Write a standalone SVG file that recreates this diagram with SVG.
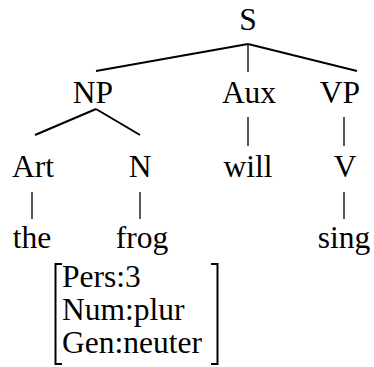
<svg xmlns="http://www.w3.org/2000/svg" width="374" height="367" viewBox="0 0 374 367">
<style>
line,path{stroke:#000;stroke-width:2;fill:none}
.v{stroke-width:1.3}
text{font-family:'Times New Roman',Times,'Liberation Serif',serif;font-size:31.5px;fill:#000;text-anchor:middle}
text.fs{text-anchor:start}
</style>
<rect width="374" height="367" fill="#fff"/>
<g id="connectors">
<line x1="248" y1="44" x2="96" y2="71"/>
<line x1="248" y1="44" x2="357" y2="71"/>
<line class="v" x1="248" y1="44" x2="248" y2="72"/>
<line x1="96" y1="109" x2="35" y2="135"/>
<line x1="96" y1="109" x2="140" y2="135"/>
<line class="v" x1="248" y1="117" x2="248" y2="146"/>
<line class="v" x1="344" y1="117" x2="344" y2="146"/>
<line class="v" x1="32" y1="192" x2="32" y2="219"/>
<line class="v" x1="140" y1="192" x2="140" y2="219"/>
<line class="v" x1="344" y1="192" x2="344" y2="219"/>
</g>
<g id="S"><text x="248" y="30">S</text></g>
<g id="NP"><text x="93" y="103">NP</text></g>
<g id="Aux"><text x="249" y="103">Aux</text></g>
<g id="VP"><text x="340" y="103">VP</text></g>
<g id="Art"><text x="33" y="177">Art</text></g>
<g id="N"><text x="140" y="177">N</text></g>
<g id="will"><text x="248" y="177">will</text></g>
<g id="V"><text x="345" y="177">V</text></g>
<g id="the"><text x="32" y="248">the</text></g>
<g id="frog"><text x="142" y="248">frog</text></g>
<g id="sing"><text x="344" y="248">sing</text></g>
<g id="features">
<path d="M62,264 H55.5 V364 H62"/>
<path d="M211,264 H217.5 V364 H211"/>
<text class="fs" x="62" y="287">Pers:3</text>
<text class="fs" x="62" y="320">Num:plur</text>
<text class="fs" x="62" y="353">Gen:neuter</text>
</g>
</svg>
